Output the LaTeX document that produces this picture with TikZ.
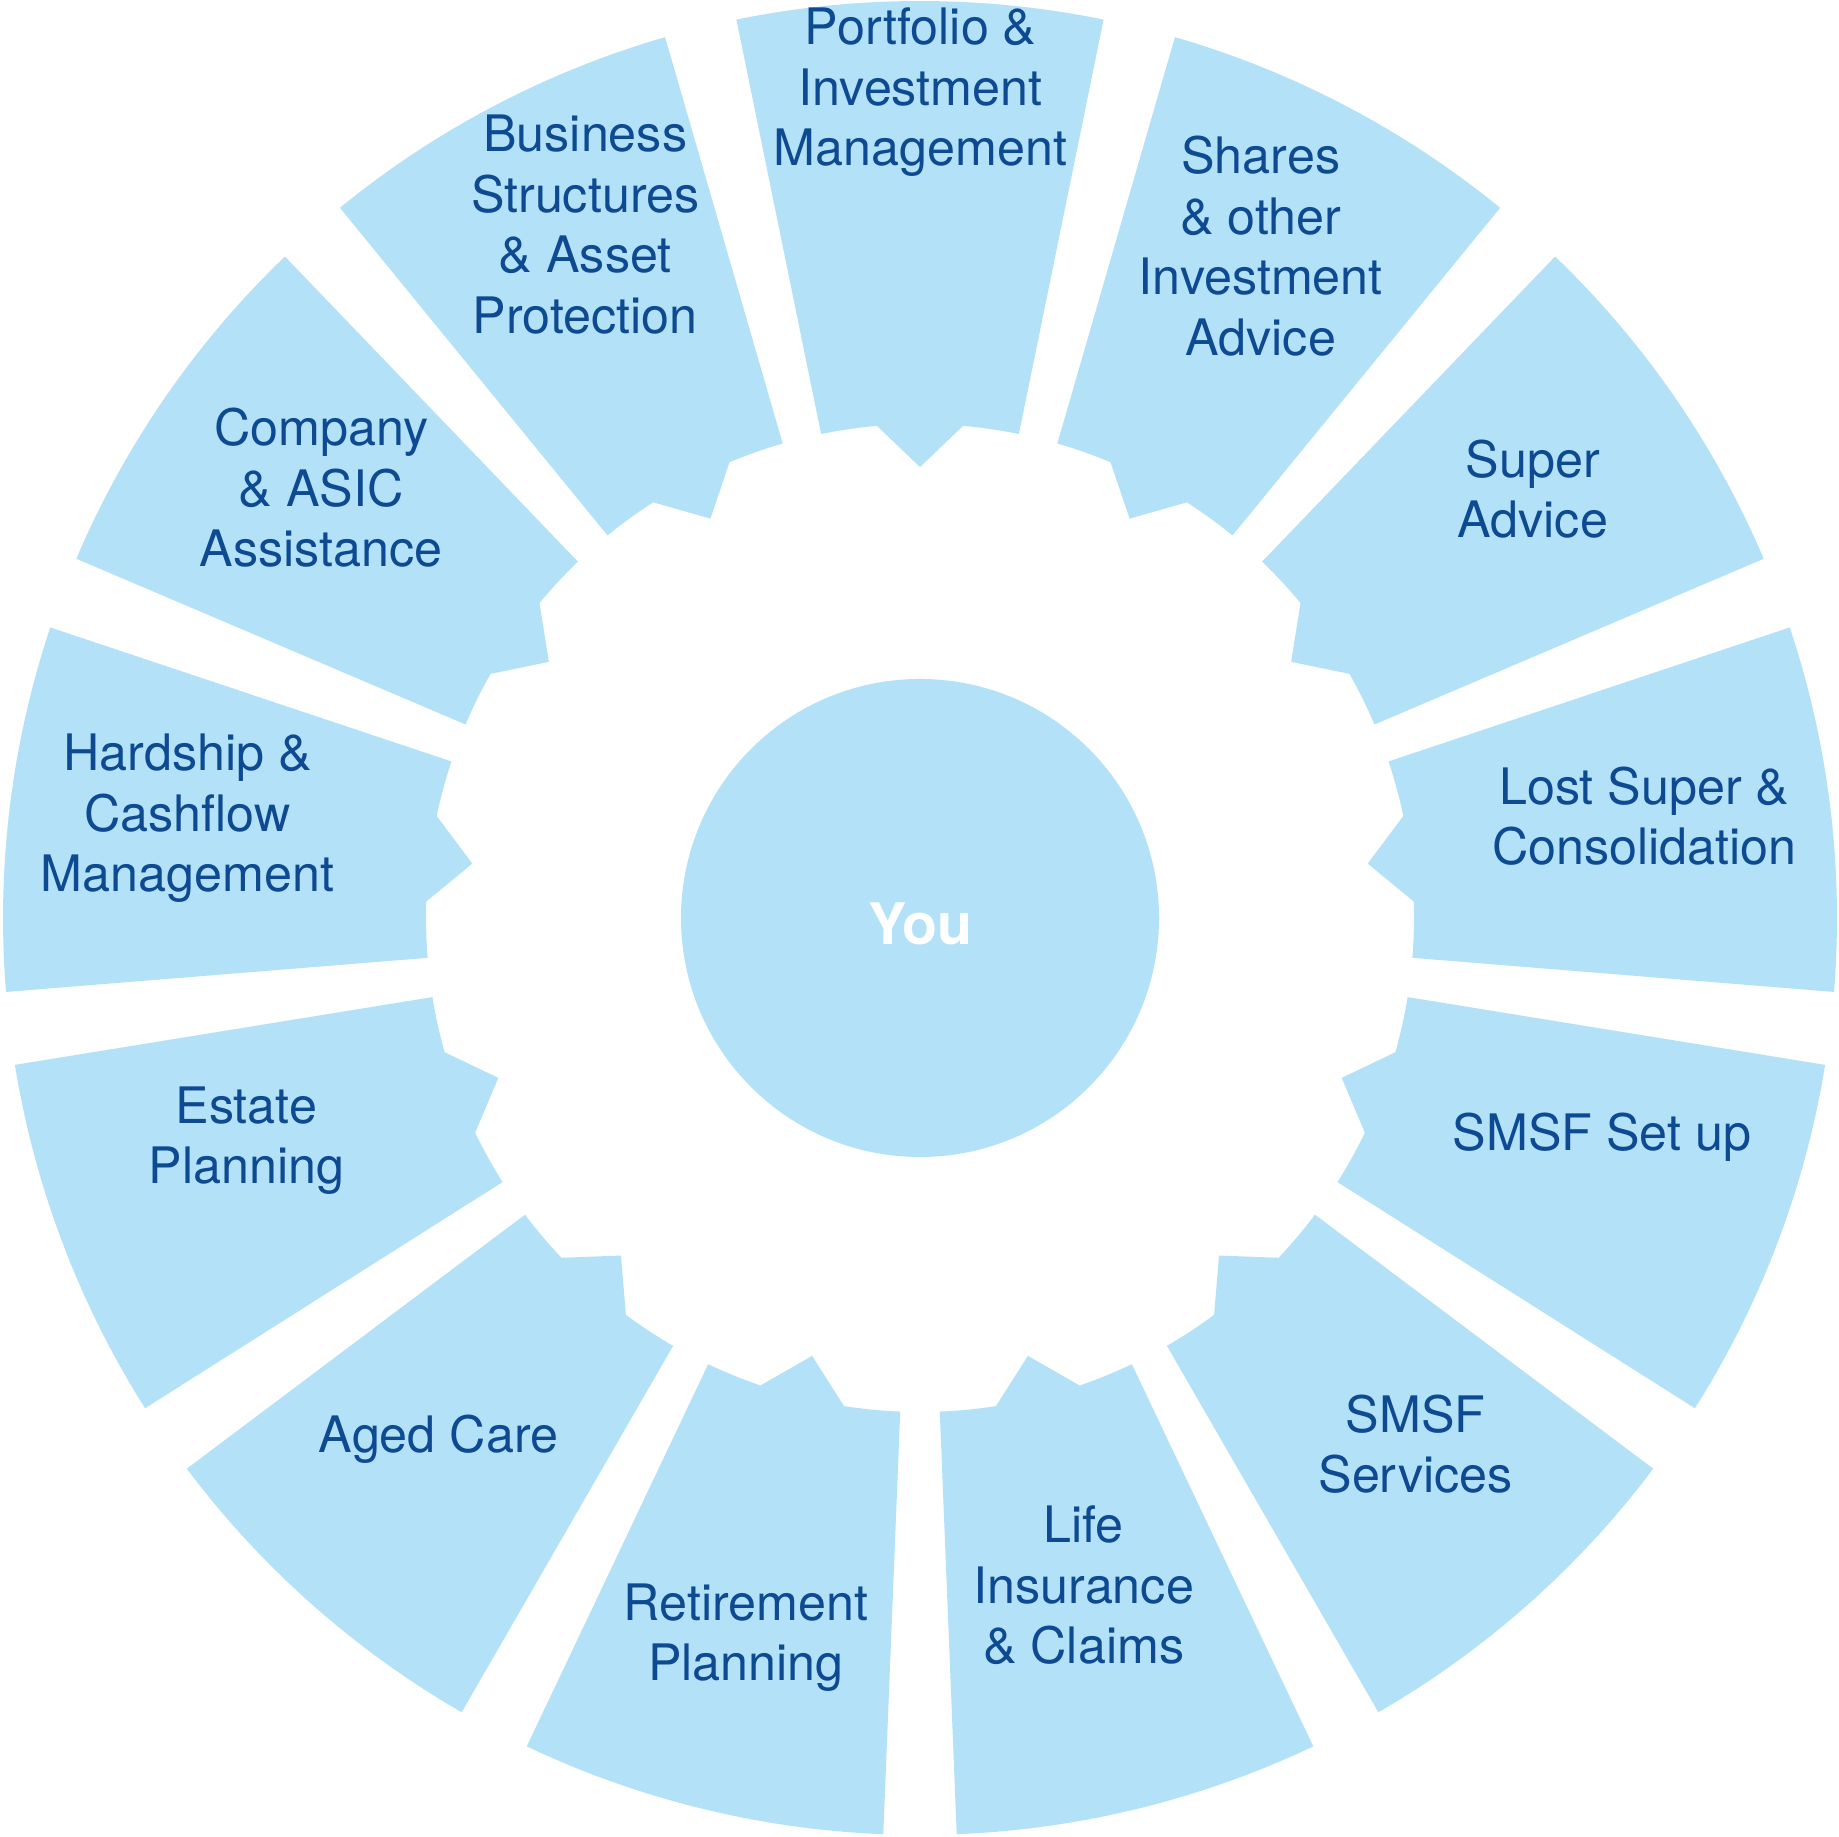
\documentclass[tikz,border=0pt]{standalone}
\usepackage{fontspec}
\setmainfont{TeX Gyre Heros}
\definecolor{segfill}{RGB}{179,225,247}
\definecolor{segtext}{RGB}{13,74,145}
\tikzset{
  seglabel/.style={text=segtext, align=center, inner sep=0pt, font=\fontsize{14.3}{17.2}\selectfont},
  seg/.style={fill=segfill, draw=none}
}
\begin{document}
\begin{tikzpicture}
\useasboundingbox (0,0) rectangle (18.39,18.36);
\fill[white] (0,0) rectangle (18.39,18.36);
\begin{scope}[shift={(9.20,9.18)}]
\foreach \k in {0,...,12}{
  \pgfmathsetmacro\th{90-\k*360/13}
  \pgfmathsetmacro\a{\th-11.55}
  \pgfmathsetmacro\b{\th+11.55}
  \pgfmathsetmacro\c{\th+5}
  \pgfmathsetmacro\d{\th-5}
  \path[seg] (\a:4.94) -- (\a:9.17) arc[start angle=\a, end angle=\b, radius=9.17]
    -- (\b:4.94) arc[start angle=\b, end angle=\c, radius=4.94]
    -- (\th:4.51) -- (\d:4.94) arc[start angle=\d, end angle=\a, radius=4.94] -- cycle;
}
\node[circle, fill=segfill, minimum size=4.78cm, inner sep=0pt] (you) at (0,0) {};
\end{scope}
\node[text=white, font=\fontsize{16.3}{19}\selectfont\bfseries] (youlabel) at (9.206,9.12) {You};
\node[seglabel] (portfolio) at (9.206,17.435) {Portfolio \&\\Investment\\Management};
\node[seglabel] (shares) at (12.608,15.897) {Shares\\\& other\\Investment\\Advice};
\node[seglabel] (super) at (15.328,13.47) {Super\\Advice};
\node[seglabel] (lostsuper) at (16.443,10.197) {Lost Super \&\\Consolidation};
\node[seglabel] (smsfsetup) at (16.02,6.985) {SMSF Set up};
\node[seglabel] (smsfserv) at (14.156,3.918) {SMSF\\Services};
\node[seglabel] (life) at (10.837,2.504) {Life\\Insurance\\\& Claims};
\node[seglabel] (retire) at (7.459,1.984) {Retirement\\Planning};
\node[seglabel] (aged) at (4.386,3.972) {Aged Care};
\node[seglabel] (estate) at (2.463,6.951) {Estate\\Planning};
\node[seglabel] (hardship) at (1.876,10.175) {Hardship \&\\Cashflow\\Management};
\node[seglabel] (company) at (3.213,13.481) {Company\\\& ASIC\\Assistance};
\node[seglabel] (business) at (5.852,16.114) {Business\\Structures\\\& Asset\\Protection};
\end{tikzpicture}
\end{document}
